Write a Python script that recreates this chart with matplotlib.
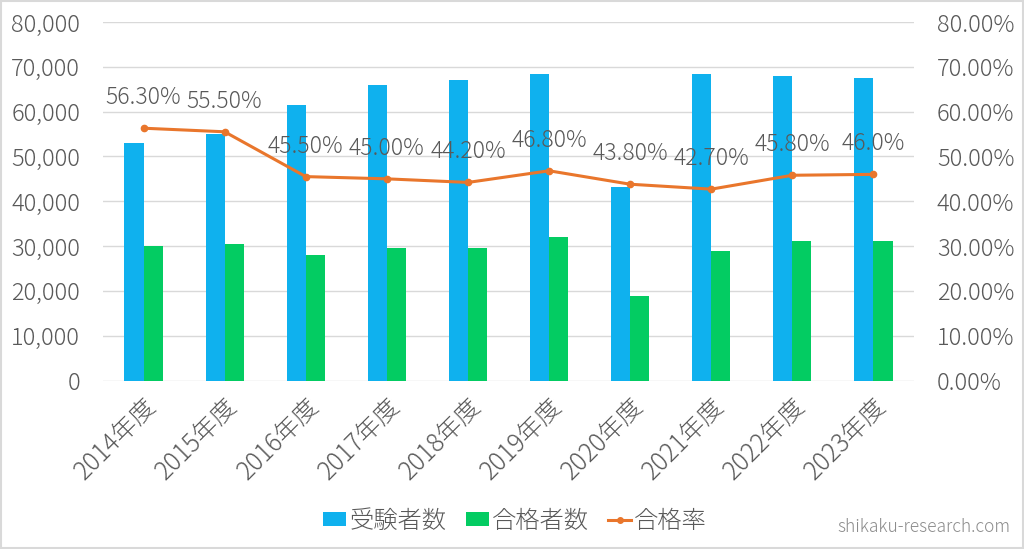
import matplotlib
matplotlib.use("Agg")
import matplotlib.pyplot as plt
from matplotlib.ticker import FuncFormatter, MultipleLocator
from matplotlib.lines import Line2D
from matplotlib.patches import Patch, Rectangle
import numpy as np

plt.rcParams['font.family'] = ['Noto Sans CJK JP', 'DejaVu Sans']
plt.rcParams['font.weight'] = 'light'

categories = ["2014年度", "2015年度", "2016年度", "2017年度", "2018年度",
              "2019年度", "2020年度", "2021年度", "2022年度", "2023年度"]
examinees = [53000, 55100, 61500, 65900, 67100, 68500, 43200, 68300, 68000, 67400]
passers = [29950, 30570, 28040, 29600, 29600, 32000, 18810, 29000, 31240, 31020]
pass_rate = [56.3, 55.5, 45.5, 45.0, 44.2, 46.8, 43.8, 42.7, 45.8, 46.0]
rate_labels = ["56.30%", "55.50%", "45.50%", "45.00%", "44.20%",
               "46.80%", "43.80%", "42.70%", "45.80%", "46.0%"]

BLUE = "#0FB1EE"
GREEN = "#03CC62"
ORANGE = "#E9762C"
TXT = "#595959"
GRID = "#D9D9D9"

fig = plt.figure(figsize=(10.24, 5.49), dpi=100)
ax = fig.add_axes([103/1024, 1 - 380.5/549, (914-103)/1024, (380.5-22)/549])
ax2 = ax.twinx()

x = np.arange(len(categories))
w = 0.235
ax.bar(x - w/2, examinees, width=w, color=BLUE, zorder=2)
ax.bar(x + w/2, passers, width=w, color=GREEN, zorder=2)

ax.set_xlim(-0.5, len(categories) - 0.5)
ax.set_ylim(0, 80000)
ax.yaxis.set_major_locator(MultipleLocator(10000))
ax.yaxis.set_major_formatter(FuncFormatter(lambda v, p: f"{int(v):,}"))
ax.grid(axis='y', color=GRID, linewidth=1, zorder=0)
ax.set_axisbelow(True)
for s in ax.spines.values():
    s.set_visible(False)
for s in ax2.spines.values():
    s.set_visible(False)
ax.tick_params(axis='y', length=0, pad=16.5, labelsize=17, labelcolor=TXT)
ax.set_xticks(x)
ax.set_xticklabels(categories, rotation=45, ha='right', rotation_mode='anchor',
                   fontsize=18, color=TXT)
ax.tick_params(axis='x', length=0, pad=9)

ax2.plot(x, pass_rate, color=ORANGE, linewidth=2.2, marker='o', markersize=4.5, zorder=3)
ax2.set_ylim(0, 80)
ax2.yaxis.set_major_locator(MultipleLocator(10))
ax2.yaxis.set_major_formatter(FuncFormatter(lambda v, p: f"{v:.2f}%"))
ax2.tick_params(axis='y', length=0, pad=16.5, labelsize=17, labelcolor=TXT)

for xi, r, lab in zip(x, pass_rate, rate_labels):
    ax2.annotate(lab, (xi, r), xytext=(0, 13), textcoords='offset points',
                 ha='center', va='bottom', fontsize=16.5, color=TXT, zorder=4)

handles = [Patch(facecolor=BLUE, edgecolor='none'),
           Patch(facecolor=GREEN, edgecolor='none'),
           Line2D([0], [0], color=ORANGE, linewidth=2.2, marker='o', markersize=4)]
leg = fig.legend(handles, ["受験者数", "合格者数", "合格率"], loc='center',
                 bbox_to_anchor=(515/1024, 1 - 521/549), ncol=3, frameon=False,
                 fontsize=17.5, handlelength=0.95, handleheight=0.55, handletextpad=0.12,
                 columnspacing=0.8, labelcolor=TXT)

fig.text(1010/1024, 1 - 527/549, "shikaku-research.com", ha='right', va='center',
         fontsize=12.5, color="#8C8C8C")

fig.patches.append(Rectangle((0.001, 0.001), 0.998, 0.997, transform=fig.transFigure,
                             fill=False, edgecolor=GRID, linewidth=1.5))

fig.savefig("out.png", dpi=100)
